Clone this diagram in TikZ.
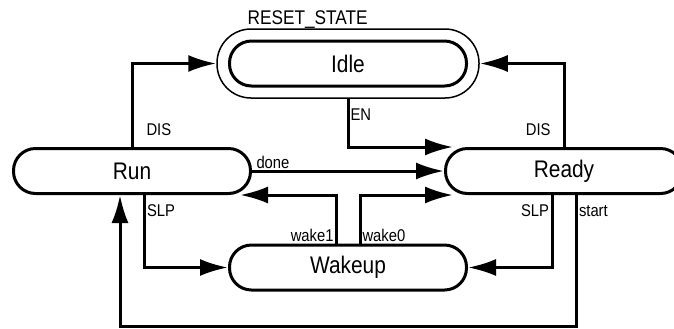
\documentclass[tikz,border=0pt]{standalone}
\usepackage{fontspec}
\setmainfont{Liberation Sans}[FakeStretch=0.87]
\usetikzlibrary{arrows.meta, calc}

\begin{document}
\begin{tikzpicture}[
  x=0.5pt, y=-0.5pt,
  >={Latex[length=14pt, width=8.5pt]},
  state/.style ={draw, line width=1.5pt, rounded corners=11pt, minimum width=118.5pt, minimum height=22.5pt, inner sep=0pt, font=\fontsize{12}{14}\selectfont},
  ring/.style  ={draw, line width=0.75pt, rounded corners=17pt, minimum width=131pt, minimum height=34.5pt, inner sep=0pt},
  lbl/.style   ={font=\fontsize{8.5}{10}\selectfont, inner sep=0pt},
  conn/.style  ={->, line width=1.5pt},
]
\useasboundingbox (0,0) rectangle (674,328);
\clip (0,0) rectangle (674,328);

% ---------- states ----------
\node[state] (Idle)   at (348,63.5)  {Idle};
\node[ring]  (IdleRing) at (Idle)    {};
\node[state] (Run)    at (132,171)   {Run};
\node[state] (Ready)  at (564,171)   {Ready};
\node[state] (Wakeup) at (348,267.5) {Wakeup};

\node[lbl, font=\fontsize{9.9}{12}\selectfont, anchor=base west] (reset)
  at ($(IdleRing.north west)+(31,-4)$) {RESET\_STATE};

% ---------- transitions ----------
\draw[conn] (Run.north) node[lbl, anchor=base west, xshift=6.5pt, yshift=5.75pt] (disL) {DIS}
  |- (IdleRing.west);
\draw[conn] (Ready.north) node[lbl, anchor=base east, xshift=-6pt, yshift=5.75pt] (disR) {DIS}
  |- (IdleRing.east);
\draw[conn] (IdleRing.south) node[lbl, anchor=base west, xshift=0.5pt, yshift=-11pt] (en) {EN}
  |- ($(Ready.north west)+(9,0)$);
\draw[conn] (Run.east) node[lbl, anchor=base west, xshift=1.5pt, yshift=1.5pt] (done) {done}
  -- (Ready.west);

% wake-up paths
\draw[conn] ($(Wakeup.north)+(-12,0)$) node[lbl, anchor=base east, xshift=-0.5pt, yshift=1.25pt] (w1) {wake1}
  |- ($(Run.south east)+(-12,0)$);
\draw[conn] ($(Wakeup.north)+(12,0)$) node[lbl, anchor=base west, xshift=0.5pt, yshift=1.25pt] (w0) {wake0}
  |- ($(Ready.south west)+(9,0)$);

% sleep paths
\draw[conn] ($(Run.south)+(12,0)$) node[lbl, anchor=base west, xshift=0.75pt, yshift=-10.75pt] (slpL) {SLP}
  |- (Wakeup.west);
\draw[conn] ($(Ready.south)+(-12,0)$) node[lbl, anchor=base east, xshift=-0.75pt, yshift=-10.75pt] (slpR) {SLP}
  |- (Wakeup.east);

% start loop under everything
\coordinate (startbus) at ($(Wakeup.south)+(0,34.5)$);
\draw[conn] ($(Ready.south)+(12,0)$) node[lbl, anchor=base west, xshift=0.75pt, yshift=-10.75pt] (start) {start}
  |- (startbus) -| ($(Run.south)+(-12,0)$);

\end{tikzpicture}
\end{document}
